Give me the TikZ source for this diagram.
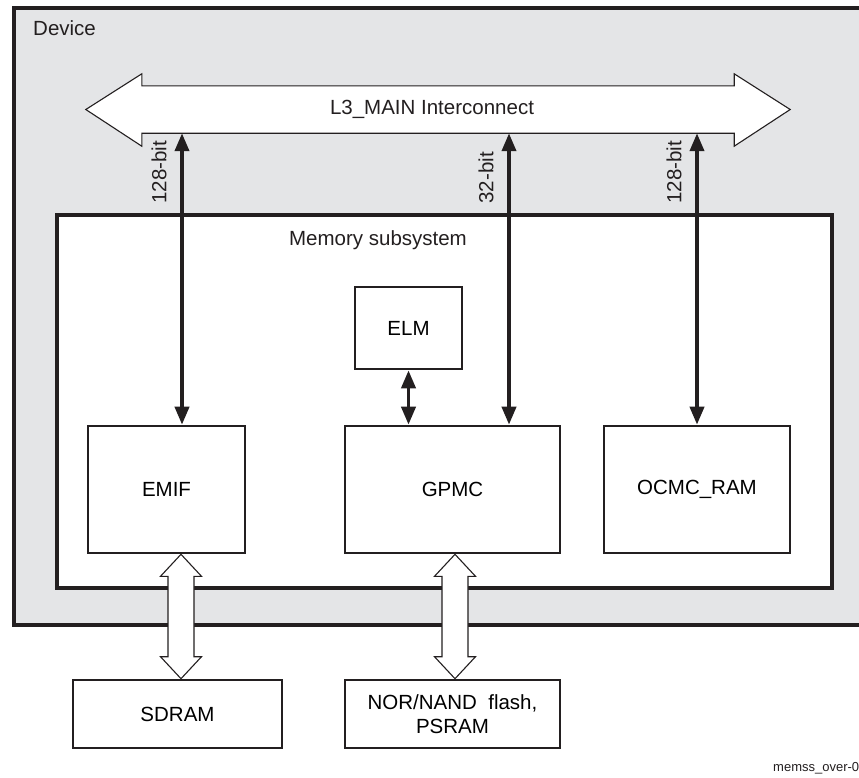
\documentclass[tikz,border=0pt]{standalone}
\usepackage{fontspec}
\setmainfont{Liberation Sans}
\usetikzlibrary{arrows.meta,calc}
\definecolor{ln}{RGB}{35,31,32}
\definecolor{devgray}{RGB}{228,229,231}
\tikzset{
  blk/.style={draw=ln, line width=2.6pt, fill=white, inner sep=0pt, align=center},
  hollow/.style={draw=ln, line width=1.1pt, fill=white, line join=miter},
  bus/.style={draw=ln, line width=3.8pt, {Triangle[length=18pt,width=14pt]}-{Triangle[length=18pt,width=14pt]}},
  lbl/.style={inner sep=0pt, text=ln}
}
\begin{document}
\begin{tikzpicture}[x=1pt,y=-1pt,font=\fontsize{20.5}{24}\selectfont]
\useasboundingbox (0,0) rectangle (859,777);
\clip (0,0) rectangle (859,777);
\fill[white] (0,0) rectangle (859,777);
% device
\node[draw=ln, line width=3.8pt, fill=devgray, minimum width=866pt, minimum height=617pt, inner sep=0pt] (device) at (447,316.5) {};
\node[lbl, anchor=base west] (devlbl) at (33,35.7) {Device};
% L3 interconnect
\node[inner sep=0pt, minimum width=592pt, minimum height=47pt] (l3) at (438,109.5) {};
\draw[hollow] (l3.north west) -- ++(0,-12) -- ($(l3.west)+(-56,0)$) -- ($(l3.south west)+(0,13)$) -- (l3.south west) -- (l3.south east) -- ++(0,13) -- ($(l3.east)+(56,0)$) -- ($(l3.north east)+(0,-12)$) -- (l3.north east) -- cycle;
\node[lbl] (l3lbl) at (432,109) {L3\_MAIN Interconnect};
% memory subsystem
\node[draw=ln, line width=3.4pt, fill=white, minimum width=775pt, minimum height=373pt, inner sep=0pt] (mem) at (444.5,401.5) {};
\node[lbl] (memlbl) at (378,240) {Memory subsystem};
% blocks
\node[blk, minimum width=157pt, minimum height=127pt] (emif) at (166.5,489.5) {EMIF};
\node[blk, minimum width=215pt, minimum height=127pt] (gpmc) at (452.5,489.5) {GPMC};
\node[blk, minimum width=186pt, minimum height=127pt] (ocmc) at (697,489.5) {OCMC\_RAM};
\node[blk, minimum width=107pt, minimum height=82pt] (elm) at (408.5,328) {ELM};
\node[blk, minimum width=209pt, minimum height=68pt] (sdram) at (177.5,714) {SDRAM};
\node[blk, minimum width=215pt, minimum height=68pt] (nor) at (452.5,714) {NOR/NAND\ \ flash,\\PSRAM};
% bus arrows
\coordinate (e1) at ($(emif.north)+(15.5,0)$);
\coordinate (g1) at ($(gpmc.north)+(56.5,0)$);
\coordinate (o1) at (ocmc.north);
\draw[bus] (e1 |- l3.south) -- (e1);
\draw[bus] (g1 |- l3.south) -- (g1);
\draw[bus] (o1 |- l3.south) -- (o1);
\draw[bus] (elm.south) -- (elm.south |- gpmc.north);
\node[lbl, rotate=90, anchor=west] (w1) at ($(e1)+(-23,-221)$) {128-bit};
\node[lbl, rotate=90, anchor=west] (w2) at ($(g1)+(-23,-221)$) {32-bit};
\node[lbl, rotate=90, anchor=west] (w3) at ($(o1)+(-23,-221)$) {128-bit};
% hollow arrows
\coordinate (h1t) at ($(emif.south)+(14.5,0)$);
\coordinate (h1b) at (h1t |- sdram.north);
\draw[hollow] (h1t) -- ++(20.5,22) -- ++(-7.5,0) -- ($(h1b)+(13,-22)$) -- ++(7.5,0) -- (h1b) -- ++(-20.5,-22) -- ++(7.5,0) -- ($(h1t)+(-13,22)$) -- ++(-7.5,0) -- cycle;
\coordinate (h2t) at ($(gpmc.south)+(2.5,0)$);
\coordinate (h2b) at (h2t |- nor.north);
\draw[hollow] (h2t) -- ++(20.5,22) -- ++(-7.5,0) -- ($(h2b)+(13,-22)$) -- ++(7.5,0) -- (h2b) -- ++(-20.5,-22) -- ++(7.5,0) -- ($(h2t)+(-13,22)$) -- ++(-7.5,0) -- cycle;
% figure id
\node[lbl, anchor=base west, font=\fontsize{13}{15}\selectfont] (figid) at (773,771) {memss\_over-0};
\end{tikzpicture}
\end{document}
